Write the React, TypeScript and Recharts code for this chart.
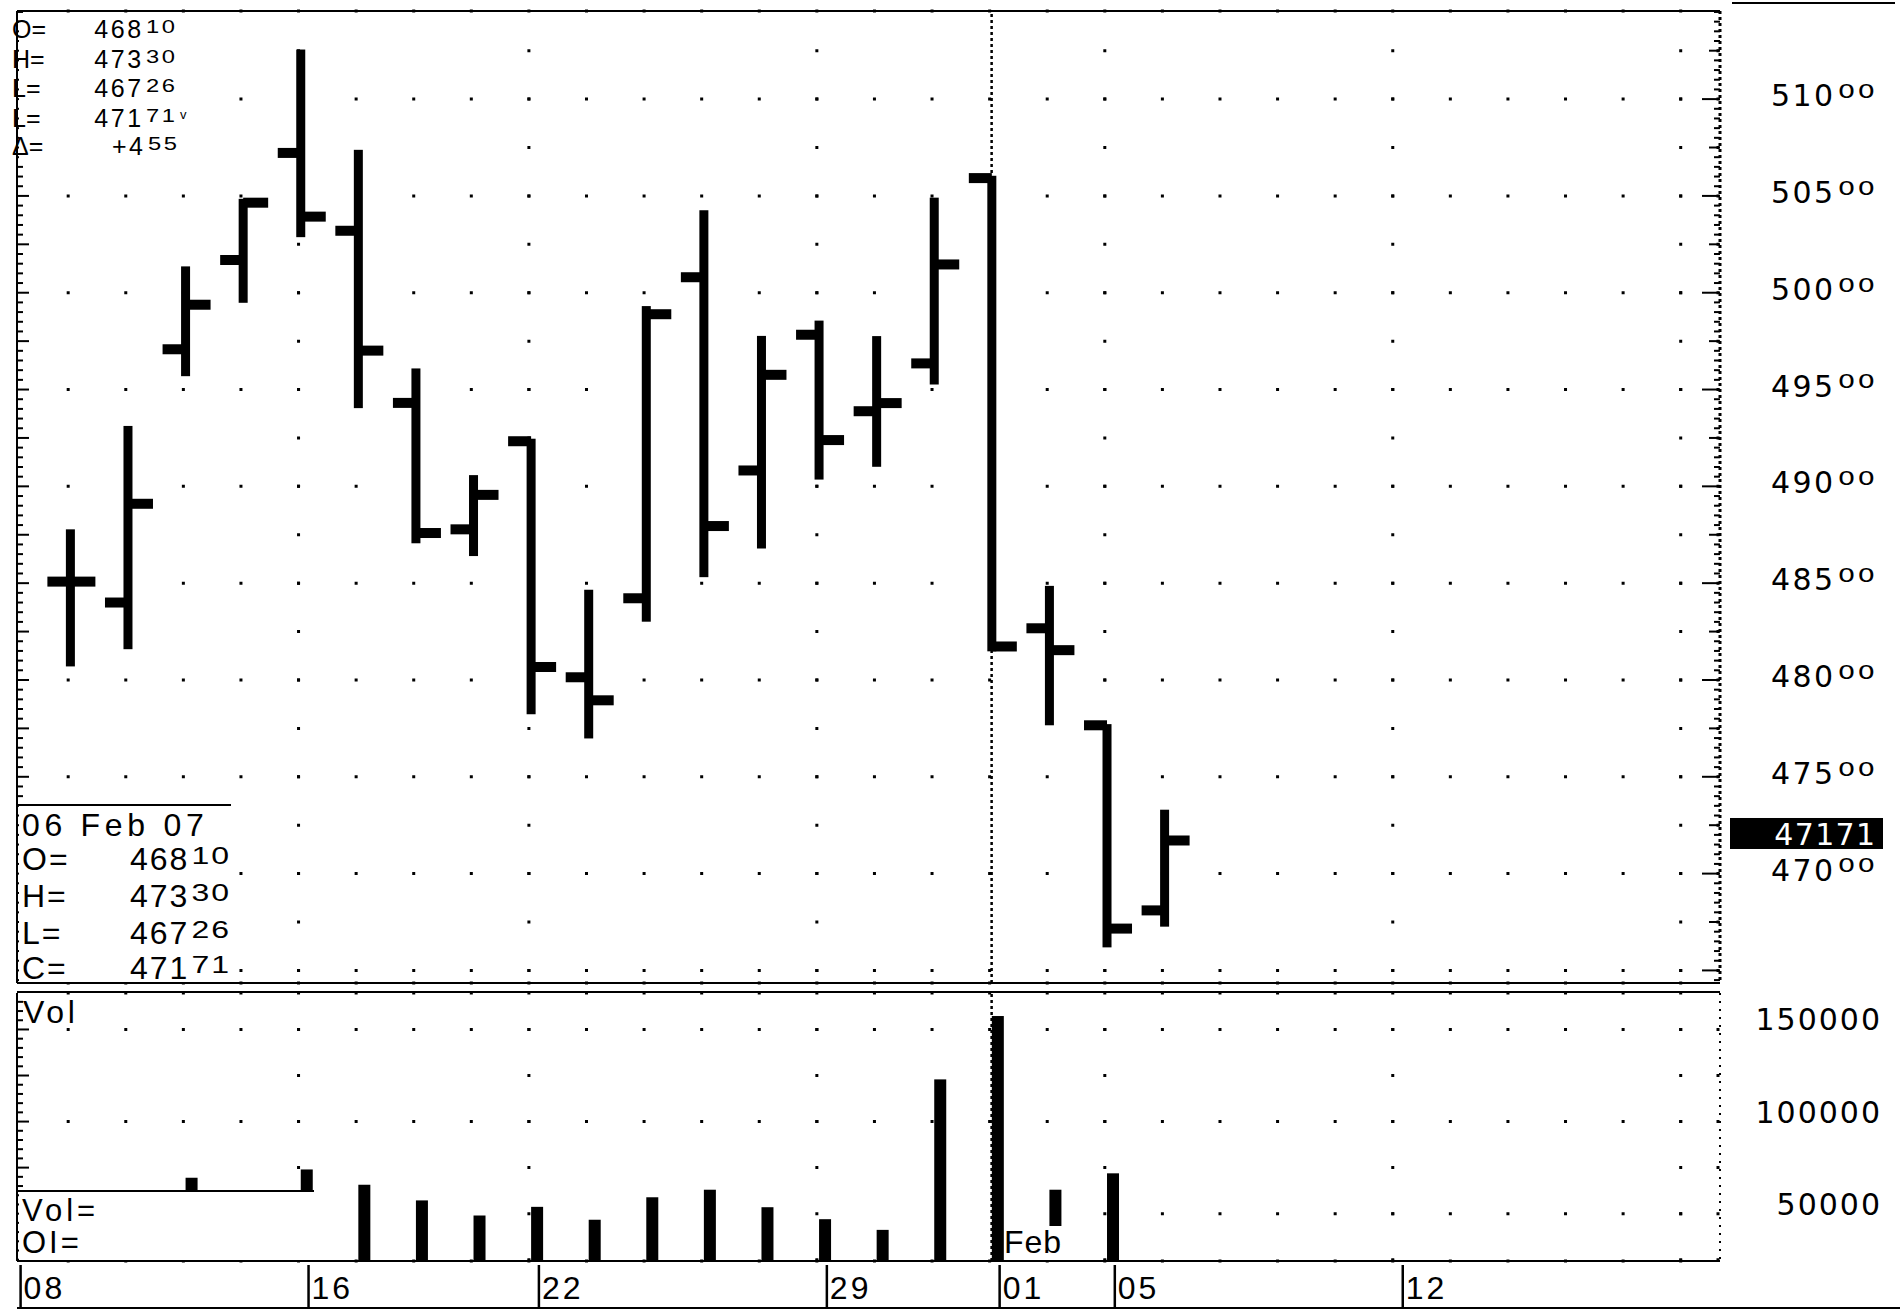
import React from "react";
import {
  ComposedChart,
  Bar,
  XAxis,
  YAxis,
  CartesianGrid,
  ReferenceLine,
} from "recharts";

// trading days on the x axis (last ones are empty future slots)
const DATES = [
  "Jan 8", "Jan 9", "Jan 10", "Jan 11", "Jan 12", "Jan 16", "Jan 17", "Jan 18",
  "Jan 19", "Jan 22", "Jan 23", "Jan 24", "Jan 25", "Jan 26", "Jan 29", "Jan 30",
  "Jan 31", "Feb 1", "Feb 2", "Feb 5", "Feb 6", "Feb 7", "Feb 8", "Feb 9",
  "Feb 12", "Feb 13", "Feb 14", "Feb 15", "Feb 16", "Feb 19",
];

const OPEN = [null, 48508, 48400, 49708, 50169, 50722, 50320, 49431, 48778, 49233, 48014, 48422, 50080, 49082, 49783, 49388, 49635, 50592, 48267, 47766, 46810];
const HIGH = [null, 48778, 49312, 50136, 50485, 51256, 50738, 49609, 49058, 49246, 48466, 49931, 50426, 49777, 49856, 49776, 50491, 50604, 48486, 47772, 47330];
const LOW = [null, 48070, 48159, 49569, 49948, 50287, 49404, 48706, 48640, 47823, 47698, 48301, 48531, 48679, 49035, 49101, 49526, 48148, 47766, 46619, 46726];
const CLOSE = [null, 48508, 48910, 49938, 50465, 50393, 49701, 48759, 48956, 48067, 47895, 49889, 48795, 49576, 49239, 49430, 50146, 48173, 48154, 46716, 47171];
const VOLUME = [null, null, null, 69500, null, 74000, 65700, 57200, 49000, 53700, 46700, 58900, 63000, 53500, 47000, 41200, 122900, 157300, 63000, 71900];

const PRICE_LABELS = [47000, 47500, 48000, 48500, 49000, 49500, 50000, 50500, 51000];
const PRICE_GRID = [46500, 47000, 47500, 48000, 48500, 49000, 49500, 50000, 50500, 51000];
const VOLUME_LABELS = [50000, 100000, 150000];
const WEEK_STARTS = ["Jan 8", "Jan 16", "Jan 22", "Jan 29", "Feb 5", "Feb 12", "Feb 19"];
const DATE_TICKS = ["Jan 8", "Jan 16", "Jan 22", "Jan 29", "Feb 1", "Feb 5", "Feb 12"];
const MONTH_START = "Feb 1";
const YEAR = "07";

const data = DATES.map((date, i) => ({
  date,
  open: OPEN[i] ?? null,
  high: HIGH[i] ?? null,
  low: LOW[i] ?? null,
  close: CLOSE[i] ?? null,
  volume: VOLUME[i] ?? null,
}));

const LAST = CLOSE.length - 1;
const LAST_CLOSE = CLOSE[LAST] as number;
const DELTA = LAST_CLOSE - (CLOSE[LAST - 1] as number);

// layout (page pixels)
const PLOT_L = 17;
const PLOT_R = 1720;
const BAND_L = -16.2;
const BAND_R = 1711.5;
const PAD = { left: BAND_L - PLOT_L, right: PLOT_R - BAND_R };
const SLOT = (BAND_R - BAND_L) / DATES.length;
const slotCenter = (i: number) => BAND_L + SLOT * (i + 0.5);

const PRICE_TOP = 11;
const PRICE_BOTTOM = 983;
const PRICE_DOMAIN: [number, number] = [46435, 51455];
const VOL_CHART_TOP = 985;
const VOL_TOP = 8;
const VOL_BOTTOM = 276;
const VOL_DOMAIN: [number, number] = [24300, 169800];

const PRICE_RULER: number[] = [];
for (let v = 46450; v <= 51450; v += 50) PRICE_RULER.push(v);
const VOL_RULER: number[] = [];
for (let v = 25000; v <= 165000; v += 5000) VOL_RULER.push(v);

const SANS = "Liberation Sans";
const WIDE = "DejaVu Sans";

const dotPhase = (start: number, firstCenter: number, period: number, dash: number) => {
  const d = firstCenter - dash / 2 - start;
  return (((period - d) % period) + period) % period;
};

const yOf = (v: number, top: number, bottom: number, dom: [number, number]) =>
  top + ((dom[1] - v) / (dom[1] - dom[0])) * (bottom - top);

const PRICE_STEP = (250 * (PRICE_BOTTOM - PRICE_TOP)) / (PRICE_DOMAIN[1] - PRICE_DOMAIN[0]);
const VOL_STEP = (25000 * (VOL_BOTTOM - VOL_TOP)) / (VOL_DOMAIN[1] - VOL_DOMAIN[0]);

const gridRow = (startAt?: (p: any) => number) => (p: any) => {
  const x1 = startAt ? startAt(p) : p.x1;
  return (
    <line
      key={`row-${p.index}`}
      x1={x1}
      x2={p.x2}
      y1={p.y1}
      y2={p.y2}
      stroke="#000"
      strokeWidth={3}
      strokeDasharray={`3 ${SLOT - 3}`}
      strokeDashoffset={dotPhase(x1, slotCenter(1) - 2, SLOT, 3)}
    />
  );
};

const gridCol = (top: number, bottom: number, step: number, anchor: number) => (p: any) => {
  if (p.x1 < PLOT_L + 4) return <g key={`col-${p.index}`} />;
  return (
    <line
      key={`col-${p.index}`}
      x1={p.x1 - 2}
      x2={p.x1 - 2}
      y1={top}
      y2={bottom}
      stroke="#000"
      strokeWidth={3}
      strokeDasharray={`3 ${step - 3}`}
      strokeDashoffset={dotPhase(top, anchor, step, 3)}
    />
  );
};

const priceRow = gridRow();
const priceCol = gridCol(
  PRICE_TOP,
  PRICE_BOTTOM,
  PRICE_STEP,
  yOf(51000, PRICE_TOP, PRICE_BOTTOM, PRICE_DOMAIN)
);
const volRow = gridRow((p) =>
  Math.abs(p.y1 - yOf(50000, VOL_TOP, VOL_BOTTOM, VOL_DOMAIN)) < 2 ? slotCenter(20) - 20 : p.x1
);
const volCol = gridCol(VOL_TOP, VOL_BOTTOM, VOL_STEP, yOf(150000, VOL_TOP, VOL_BOTTOM, VOL_DOMAIN));

// number whose last digits are printed short and raised (x = right edge)
const SupNum = ({ x, y, text, split = 2, font, size, em, ls, sx, sy, fill = "#000" }: any) => {
  const head = text.slice(0, text.length - split);
  const tail = text.slice(text.length - split);
  const tailW = tail.length * (size * em + ls) * sx;
  const ys = y - size * 0.72 * (1 - sy);
  return (
    <g fill={fill} fontFamily={font} fontSize={size} letterSpacing={ls}>
      <text x={x - tailW} y={y} textAnchor="end">{head}</text>
      <text transform={`translate(${x + ls * sx} ${ys}) scale(${sx} ${sy})`} textAnchor="end">{tail}</text>
    </g>
  );
};

const OhlcShape = (props: any) => {
  const { x, y, width, height, payload } = props;
  if (payload == null || payload.high == null || !height) return <g />;
  const top = Math.min(y, y + height);
  const h = Math.abs(height);
  const cx = x + width / 2;
  const span = payload.high - payload.low || 1;
  const at = (v: number) => top + ((payload.high - v) / span) * h;
  return (
    <g fill="#000">
      <rect x={cx - 4.5} y={top} width={9} height={h} />
      <rect x={cx - 23} y={at(payload.open) - 5} width={23} height={10} />
      <rect x={cx} y={at(payload.close) - 5} width={25} height={10} />
    </g>
  );
};

const VolumeShape = (props: any) => {
  const { x, y, width, height } = props;
  if (!height || height <= 0) return <g />;
  return <rect x={x + 6} y={y} width={width} height={height} fill="#000" />;
};

const LeftRulerTick = (props: any) => {
  const { y, payload, major } = props;
  const len = payload.value % major === 0 ? 12 : 6;
  return <line x1={PLOT_L} x2={PLOT_L + len} y1={y} y2={y} stroke="#000" strokeWidth={2} />;
};

const PriceTick = (props: any) => {
  const { y, payload } = props;
  const v = payload.value;
  if (v === LAST_CLOSE) {
    return (
      <g>
        <rect x={1730} y={y - 22.5} width={153} height={31} fill="#000" />
        <text x={1876.3} y={y + 4.5} textAnchor="end" fontFamily={WIDE} fontSize={30} letterSpacing={1.3} fill="#fff">
          {String(v)}
        </text>
      </g>
    );
  }
  const len = v % 500 === 0 ? 18 : v % 250 === 0 ? 11 : 6;
  return (
    <g>
      <line x1={PLOT_R - len} x2={PLOT_R} y1={y} y2={y} stroke="#000" strokeWidth={2} />
      {PRICE_LABELS.includes(v) && (
        <SupNum x={1875} y={y + 7} text={String(v)} font={WIDE} size={30} em={0.636} ls={2.4} sx={0.92} sy={0.62} />
      )}
    </g>
  );
};

const VolTick = (props: any) => {
  const { y, payload } = props;
  return (
    <text x={1882} y={y + 1} textAnchor="end" fontFamily={WIDE} fontSize={30} letterSpacing={2} fill="#000">
      {String(payload.value)}
    </text>
  );
};

const DateTick = (props: any) => {
  const { x, y, payload } = props;
  const day = String(payload.value).split(" ")[1].padStart(2, "0");
  return (
    <g>
      <line x1={x + 8} x2={x + 8} y1={y + 4} y2={y + 46} stroke="#000" strokeWidth={2.5} />
      <text x={x + 11} y={y + 38} fontFamily={SANS} fontSize={32} letterSpacing={3} fill="#000">
        {day}
      </text>
    </g>
  );
};

const TOP_ROWS = [
  { label: "O=", value: OPEN[LAST] as number, y: 38 },
  { label: "H=", value: HIGH[LAST] as number, y: 68 },
  { label: "L=", value: LOW[LAST] as number, y: 97 },
  { label: "L=", value: LAST_CLOSE, y: 127, mark: "v" },
];

const BOX_ROWS = [
  { label: "O=", value: OPEN[LAST] as number, y: 870 },
  { label: "H=", value: HIGH[LAST] as number, y: 907 },
  { label: "L=", value: LOW[LAST] as number, y: 944 },
  { label: "C=", value: LAST_CLOSE, y: 979 },
];

const [lastMonth, lastDay] = DATES[LAST].split(" ");
const BOX_DATE = `${lastDay.padStart(2, "0")} ${lastMonth} ${YEAR}`;

const line = { stroke: "#000", strokeWidth: 2 };

export default function App() {
  return (
    <div style={{ position: "absolute", left: 0, top: 0, width: 1902, height: 1310, background: "#fff", overflow: "hidden" }}>
      <div style={{ position: "absolute", left: 0, top: 0 }}>
        <ComposedChart
          width={1902}
          height={1000}
          data={data}
          margin={{ top: PRICE_TOP, right: 0, bottom: 1000 - PRICE_BOTTOM, left: PLOT_L - 1 }}
        >
          <CartesianGrid xAxisId="week" yAxisId="grid" horizontal={priceRow} vertical={priceCol} />
          <XAxis xAxisId="x" dataKey="date" hide height={0} padding={PAD} />
          <XAxis xAxisId="week" dataKey="date" hide height={0} padding={PAD} ticks={WEEK_STARTS} interval={0} />
          <YAxis
            yAxisId="ruler"
            orientation="left"
            width={1}
            domain={PRICE_DOMAIN}
            allowDataOverflow
            ticks={PRICE_RULER}
            interval={0}
            tick={<LeftRulerTick major={250} />}
            tickLine={false}
            axisLine={line}
          />
          <YAxis
            yAxisId="price"
            orientation="right"
            width={182}
            domain={PRICE_DOMAIN}
            allowDataOverflow
            ticks={[...PRICE_RULER, LAST_CLOSE]}
            interval={0}
            tick={<PriceTick />}
            tickLine={false}
            axisLine={{ stroke: "#000", strokeWidth: 3, strokeDasharray: "3 3" }}
          />
          <YAxis yAxisId="grid" hide width={0} domain={PRICE_DOMAIN} allowDataOverflow ticks={PRICE_GRID} interval={0} />
          <ReferenceLine xAxisId="x" yAxisId="price" x={MONTH_START} stroke="#000" strokeWidth={2.5} strokeDasharray="3 3" />
          <Bar
            xAxisId="x"
            yAxisId="price"
            dataKey={(d: any) => (d.high == null ? null : [d.low, d.high])}
            barSize={10}
            shape={OhlcShape}
            isAnimationActive={false}
          />
        </ComposedChart>
      </div>

      <div style={{ position: "absolute", left: 0, top: VOL_CHART_TOP }}>
        <ComposedChart width={1902} height={325} data={data} margin={{ top: VOL_TOP, right: 0, bottom: 4, left: PLOT_L - 1 }}>
          <CartesianGrid xAxisId="week" yAxisId="vol" horizontal={volRow} vertical={volCol} />
          <XAxis
            xAxisId="x"
            dataKey="date"
            padding={PAD}
            ticks={DATE_TICKS}
            interval={0}
            tick={<DateTick />}
            tickLine={false}
            tickSize={0}
            tickMargin={0}
            height={45}
            axisLine={line}
          />
          <XAxis xAxisId="week" dataKey="date" hide height={0} padding={PAD} ticks={WEEK_STARTS} interval={0} />
          <YAxis
            yAxisId="ruler"
            orientation="left"
            width={1}
            domain={VOL_DOMAIN}
            allowDataOverflow
            ticks={VOL_RULER}
            interval={0}
            tick={<LeftRulerTick major={25000} />}
            tickLine={false}
            axisLine={line}
          />
          <YAxis
            yAxisId="vol"
            orientation="right"
            width={182}
            domain={VOL_DOMAIN}
            allowDataOverflow
            ticks={VOLUME_LABELS}
            interval={0}
            tick={<VolTick />}
            tickLine={false}
            axisLine={{ stroke: "#000", strokeWidth: 2, strokeDasharray: "2 6" }}
          />
          <ReferenceLine xAxisId="x" yAxisId="vol" x={MONTH_START} stroke="#000" strokeWidth={2.5} strokeDasharray="3 3" />
          <Bar xAxisId="x" yAxisId="vol" dataKey="volume" barSize={12} shape={VolumeShape} isAnimationActive={false} />
        </ComposedChart>
      </div>

      <svg width={1902} height={1310} style={{ position: "absolute", left: 0, top: 0, pointerEvents: "none" }}>
        {/* panel frames */}
        <line x1={PLOT_L} x2={PLOT_R} y1={11} y2={11} {...line} />
        <line x1={1732} x2={1895} y1={3} y2={3} {...line} />
        <line x1={PLOT_L} x2={PLOT_R} y1={PRICE_BOTTOM} y2={PRICE_BOTTOM} {...line} />
        <line x1={PLOT_L} x2={PLOT_R} y1={992} y2={992} {...line} />
        <line x1={PLOT_L} x2={1900} y1={1308} y2={1308} {...line} />

        {/* top-left quote */}
        <rect x={19} y={13} width={174} height={146} fill="#fff" />
        {TOP_ROWS.map((r, i) => (
          <g key={i}>
            <text x={12} y={r.y} fontFamily={SANS} fontSize={25} fill="#000">{r.label}</text>
            <SupNum x={175} y={r.y} text={String(r.value)} font={SANS} size={25} em={0.556} ls={2.6} sx={0.95} sy={0.7} />
            {r.mark && (
              <text x={180} y={r.y - 8} fontFamily={SANS} fontSize={13} fill="#000">{r.mark}</text>
            )}
          </g>
        ))}
        <text x={12} y={155} fontFamily={SANS} fontSize={25} fill="#000">Δ=</text>
        <SupNum x={177} y={155} text={(DELTA >= 0 ? "+" : "") + DELTA} font={SANS} size={25} em={0.556} ls={2.6} sx={0.95} sy={0.7} />

        {/* bottom-left quote box */}
        <rect x={19} y={806} width={212} height={176} fill="#fff" />
        <line x1={PLOT_L} x2={231} y1={805} y2={805} {...line} />
        <text x={22} y={836} fontFamily={SANS} fontSize={32} letterSpacing={4.7} fill="#000">{BOX_DATE}</text>
        {BOX_ROWS.map((r, i) => (
          <g key={i}>
            <text x={22} y={r.y} fontFamily={SANS} fontSize={32} letterSpacing={2} fill="#000">{r.label}</text>
            <SupNum x={229} y={r.y} text={String(r.value)} font={SANS} size={32} em={0.556} ls={2} sx={1} sy={0.72} />
          </g>
        ))}

        {/* volume panel labels */}
        <text x={23} y={1023} fontFamily={SANS} fontSize={32} letterSpacing={3.7} fill="#000">Vol</text>
        <rect x={19} y={1192} width={296} height={68} fill="#fff" />
        <line x1={PLOT_L} x2={314} y1={1191} y2={1191} {...line} />
        <text x={22} y={1221} fontFamily={SANS} fontSize={31} letterSpacing={4} fill="#000">Vol=</text>
        <text x={22} y={1253} fontFamily={SANS} fontSize={31} letterSpacing={3} fill="#000">OI=</text>

        <rect x={1004} y={1226} width={64} height={34} fill="#fff" />
        <text x={1004} y={1253} fontFamily={SANS} fontSize={32} letterSpacing={1} fill="#000">{lastMonth}</text>
      </svg>
    </div>
  );
}
